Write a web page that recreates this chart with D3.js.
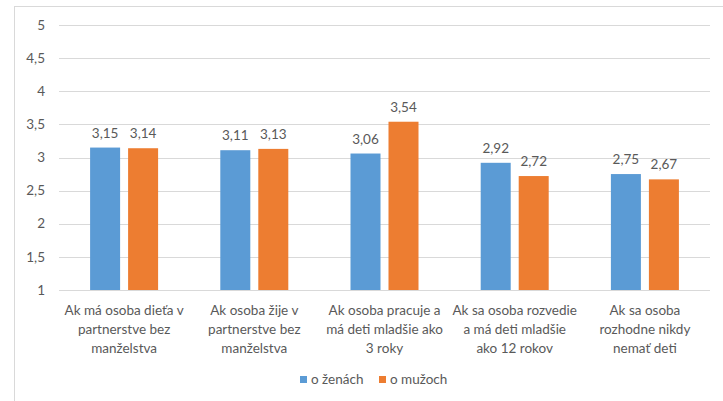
<!DOCTYPE html>
<html>
<head>
<meta charset="utf-8">
<script src="https://cdn.jsdelivr.net/npm/d3@7"></script>
<style>
  body { margin: 0; background: #fff; }
  text { font-family: Lato, "Open Sans", sans-serif; fill: #595959; }
</style>
</head>
<body>
<svg id="chart"></svg>
<script>
(function () {

    const categories = [
        ["Ak má osoba dieťa v", "partnerstve bez", "manželstva"],
        ["Ak osoba žije v", "partnerstve bez", "manželstva"],
        ["Ak osoba pracuje a", "má deti mladšie ako", "3 roky"],
        ["Ak sa osoba rozvedie", "a má deti mladšie", "ako 12 rokov"],
        ["Ak sa osoba", "rozhodne nikdy", "nemať deti"]
    ];
    const seriesNames = ["o ženách", "o mužoch"];
    const women = [3.15, 3.11, 3.06, 2.92, 2.75];
    const men = [3.14, 3.13, 3.54, 2.72, 2.67];
    const yTicks = [1, 1.5, 2, 2.5, 3, 3.5, 4, 4.5, 5];

    const width = 723;
    const height = 401;
    const margin = { top: 25, right: 13, bottom: 111, left: 59 };
    const colors = ["#5b9bd5", "#ed7d31"];
    const gridColor = "#d9d9d9";
    const fontSize = 13.5;

    const fmt = v => d3.format(",.2f")(v).replace(".", ",");
    const tickFmt = v => String(v).replace(".", ",");

    const svg = d3.select("#chart")
        .attr("width", width)
        .attr("height", height);

    // chart frame (only top/left visible in the crop)
    svg.append("rect")
        .attr("x", 14.5)
        .attr("y", 6.5)
        .attr("width", width + 10)
        .attr("height", height + 10)
        .attr("fill", "none")
        .attr("stroke", gridColor)
        .attr("stroke-width", 1);

    const x0 = d3.scaleBand()
        .domain(d3.range(categories.length))
        .range([margin.left, width - margin.right]);

    const y = d3.scaleLinear()
        .domain([1, 5])
        .range([height - margin.bottom, margin.top]);

    const series = [women, men];

    // gridlines
    svg.append("g")
        .selectAll("line")
        .data(yTicks)
        .enter()
        .append("line")
        .attr("x1", margin.left)
        .attr("x2", width - margin.right)
        .attr("y1", d => Math.round(y(d)) + 0.5)
        .attr("y2", d => Math.round(y(d)) + 0.5)
        .attr("stroke", gridColor)
        .attr("stroke-width", 1);

    // y tick labels
    svg.append("g")
        .selectAll("text")
        .data(yTicks)
        .enter()
        .append("text")
        .attr("x", 45)
        .attr("y", d => y(d))
        .attr("dy", "0.35em")
        .attr("text-anchor", "end")
        .attr("font-size", fontSize)
        .text(tickFmt);

    const barWidth = 30;
    const barGap = 8;

    const groups = svg.append("g")
        .selectAll("g")
        .data(categories.map((c, i) => i))
        .enter()
        .append("g");

    groups.each(function (i) {
        const g = d3.select(this);
        const cx = x0(i) + x0.bandwidth() / 2;
        series.forEach((vals, s) => {
            const bx = cx + (s === 0 ? -barGap / 2 - barWidth : barGap / 2);
            g.append("rect")
                .attr("x", bx)
                .attr("y", y(vals[i]))
                .attr("width", barWidth)
                .attr("height", y(1) - y(vals[i]))
                .attr("fill", colors[s]);
            g.append("text")
                .attr("x", bx + barWidth / 2)
                .attr("y", y(vals[i]) - 10)
                .attr("text-anchor", "middle")
                .attr("font-size", fontSize)
                .text(fmt(vals[i]));
        });
    });

    // category labels
    groups.append("text")
        .attr("x", i => x0(i) + x0.bandwidth() / 2)
        .attr("y", height - margin.bottom + 25)
        .attr("text-anchor", "middle")
        .attr("font-size", fontSize)
        .selectAll("tspan")
        .data(i => categories[i])
        .enter()
        .append("tspan")
        .attr("x", function () { return d3.select(this.parentNode).attr("x"); })
        .attr("dy", (d, j) => j === 0 ? 0 : 19)
        .text(d => d);

    // legend
    const legend = svg.append("g");
    const legendX = [300, 379];
    seriesNames.forEach((name, s) => {
        legend.append("rect")
            .attr("x", legendX[s])
            .attr("y", 376)
            .attr("width", 7)
            .attr("height", 7)
            .attr("fill", colors[s]);
        legend.append("text")
            .attr("x", legendX[s] + 11)
            .attr("y", 384)
            .attr("font-size", fontSize)
            .text(name);
    });

})();
</script>
</body>
</html>
